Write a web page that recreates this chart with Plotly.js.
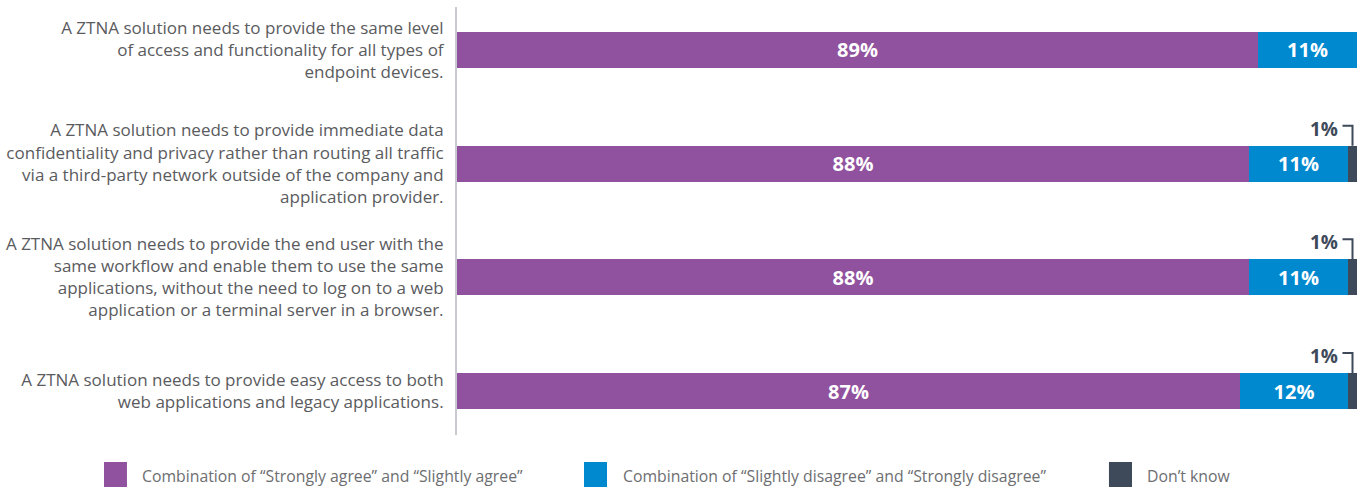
<!DOCTYPE html>
<html>
<head>
<meta charset="utf-8">
<script src="https://cdn.plot.ly/plotly-3.0.1.min.js"></script>
<style>html,body{margin:0;padding:0;background:#fff;}#chart{width:1363px;height:488px;}</style>
</head>
<body>
<div id="chart"></div>
<script>
const categories = [
  "A ZTNA solution needs to provide the same level<br>of access and functionality for all types of<br>endpoint devices.",
  "A ZTNA solution needs to provide immediate data<br>confidentiality and privacy rather than routing all traffic<br>via a third-party network outside of the company and<br>application provider.",
  "A ZTNA solution needs to provide the end user with the<br>same workflow and enable them to use the same<br>applications, without the need to log on to a web<br>application or a terminal server in a browser.",
  "A ZTNA solution needs to provide easy access to both<br>web applications and legacy applications."
];
const agree = [89, 88, 88, 87];
const disagree = [11, 11, 11, 12];
const dontKnow = [0, 1, 1, 1];
const seriesNames = [
  "Combination of “Strongly agree” and “Slightly agree”",
  "Combination of “Slightly disagree” and “Strongly disagree”",
  "Don’t know"
];
const colors = ["#90529e", "#0089cf", "#3e4a5a"];

const FONT = "'Open Sans', Lato, sans-serif";
const pct = v => v + "%";

const traces = [agree, disagree, dontKnow].map((vals, k) => ({
  type: "bar",
  orientation: "h",
  name: seriesNames[k],
  y: categories,
  x: vals,
  marker: {color: colors[k], line: {width: 0}},
  text: k < 2 ? vals.map(pct) : vals.map(() => ""),
  textposition: k < 2 ? "inside" : "none",
  insidetextanchor: "middle",
  textangle: 0,
  constraintext: "none",
  textfont: {family: FONT, size: 20, color: "#ffffff", weight: 700},
  hoverinfo: "skip",
  showlegend: false
}));

const annotations = [];
const shapes = [];
categories.forEach((c, i) => {
  if (dontKnow[i] > 0) {
    const total = agree[i] + disagree[i] + dontKnow[i];
    annotations.push({
      xref: "x", yref: "y", x: total, y: i,
      xanchor: "right", yanchor: "middle",
      xshift: -17, yshift: 35,
      text: "<b>" + pct(dontKnow[i]) + "</b>",
      showarrow: false,
      font: {family: FONT, size: 19, color: "#3e4a5a"}
    });
    shapes.push({
      type: "path", xref: "x", yref: "y",
      xsizemode: "pixel", ysizemode: "pixel",
      xanchor: agree[i] + disagree[i] + dontKnow[i] / 2, yanchor: i,
      path: "M -10,38 H 0 V 18",
      line: {color: "#3e4a5a", width: 2}
    });
  }
});

// manual legend
const legendX = [[-0.3922, -0.3667, -0.35], [0.1411, 0.1667, 0.1844], [0.7244, 0.75, 0.7667]];
seriesNames.forEach((n, k) => {
  shapes.push({
    type: "rect", xref: "paper", yref: "paper",
    x0: legendX[k][0], x1: legendX[k][1], y0: -0.0631, y1: -0.1215,
    fillcolor: colors[k], line: {width: 0}
  });
  annotations.push({
    xref: "paper", yref: "paper", x: legendX[k][2], y: -0.0958,
    xanchor: "left", yanchor: "middle", xshift: -2,
    text: n, showarrow: false,
    font: {family: FONT, size: 15.8, color: "#6d6e71"}
  });
});

const layout = {
  width: 1363, height: 488,
  margin: {l: 457, r: 6, t: 7, b: 53, pad: 0},
  paper_bgcolor: "#ffffff", plot_bgcolor: "#ffffff",
  barmode: "stack",
  bargap: 0.683,
  showlegend: false,
  font: {family: FONT},
  xaxis: {range: [0, 100], visible: false, fixedrange: true},
  yaxis: {
    type: "category",
    range: [3.387, -0.378],
    showline: true, linecolor: "#c9c9d1", linewidth: 2,
    showgrid: false, zeroline: false, ticks: "",
    ticklabelstandoff: 8,
    tickfont: {family: FONT, size: 17, color: "#5a5b5e"}
  },
  shapes: shapes,
  annotations: annotations
};

Plotly.newPlot("chart", traces, layout, {displayModeBar: false, staticPlot: true});
</script>
</body>
</html>
